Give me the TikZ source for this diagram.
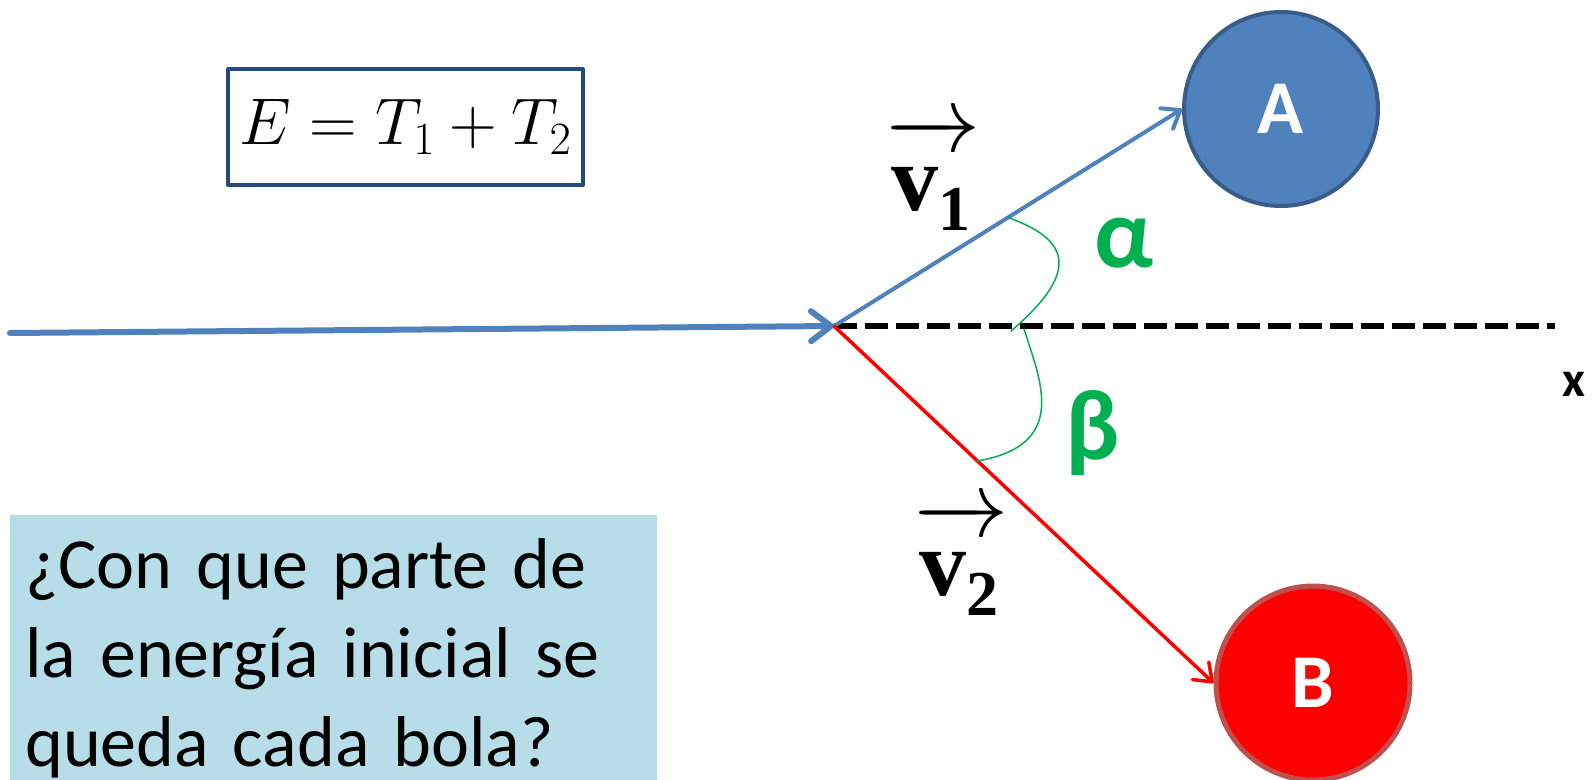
\RequirePackage{fix-cm}
\documentclass[tikz,border=0pt]{standalone}
\usepackage[no-math]{fontspec}
\setmainfont{Carlito}
\newfontfamily\tiempos{Liberation Serif}
\usetikzlibrary{arrows.meta,calc}
\definecolor{azul}{RGB}{79,129,189}
\definecolor{azulosc}{RGB}{56,93,138}
\definecolor{marco}{RGB}{36,74,125}
\definecolor{rojoosc}{RGB}{192,80,77}
\definecolor{verde}{RGB}{0,176,80}
\definecolor{celeste}{RGB}{183,221,232}
\newcommand\velo[1]{$\overrightarrow{\hbox{v\raisebox{-20pt}{\fontsize{64}{64}\selectfont #1}\kern4pt}\rule{0pt}{60pt}}$}
\begin{document}
\begin{tikzpicture}[x=1pt,y=-1pt,line join=round,line cap=round,
bola/.style={circle,minimum size=194pt,inner sep=0pt,line width=4pt,text=white,font=\fontsize{76}{76}\selectfont\bfseries},
vec/.style={anchor=base west,inner sep=0pt,font=\fontsize{94}{94}\selectfont\tiempos\bfseries},
ang/.style={text=verde,font=\fontsize{100}{100}\selectfont\bfseries},
arco/.style={verde,line width=1.5pt},
punta/.style={-{Straight Barb[length=20pt,width=30pt,round]}}]
\useasboundingbox (0,0) rectangle (1594,779);
\path
(10,333) coordinate (I)
(834,326) coordinate (O)
(1555,326) coordinate (X)
;
\node[bola,fill=azul,draw=azulosc] (A) at (1281,109) {A};
\node[bola,fill=red,draw=rojoosc,line width=5pt] (B) at (1313,683) {B};
\node[draw=marco,line width=4pt,minimum width=355pt,minimum height=116pt,inner sep=0pt] (E) at (405.5,127)
  {\fontsize{66}{66}\selectfont$E=T_1+T_2$};
\node[fill=celeste,anchor=north west,text width=617pt,inner xsep=15pt,inner ysep=23pt,align=left,
  font=\fontsize{72}{89}\selectfont] (Q) at (10,515)
  {¿Con que parte de\\la energía inicial se\\queda cada bola?};
\draw[black,line width=6pt,dash pattern=on 23pt off 8pt,line cap=butt] (O) -- (X);
\draw[azul,line width=6pt,punta] (I) -- (O);
\draw[azul,line width=4pt,-{Straight Barb[length=16pt,width=24pt,round]}] (O) -- (A.west);
\draw[red,line width=3.5pt,-{Straight Barb[length=16pt,width=24pt,round]}] (O) -- (B.west);
\path
($(O)!0.5!(A.west)$) coordinate (a1)
(1011,331) coordinate (a2)
(1024,329) coordinate (b1)
($(O)!0.378!(B.west)$) coordinate (b2)
;
\draw[arco] (a1) .. controls (1065,238) and (1085,268) .. (a2);
\draw[arco] (b1) .. controls (1040,380) and (1070,445) .. (b2);
\node[vec] (v1) at (886,210) {\velo{1}};
\node[vec] (v2) at (914,595) {\velo{2}};
\node[ang] (alfa) at (1124,243) {α};
\node[ang] (beta) at (1093,433) {β};
\node[font=\fontsize{50}{50}\selectfont\bfseries] (x) at (1574,384) {x};
\end{tikzpicture}
\end{document}
